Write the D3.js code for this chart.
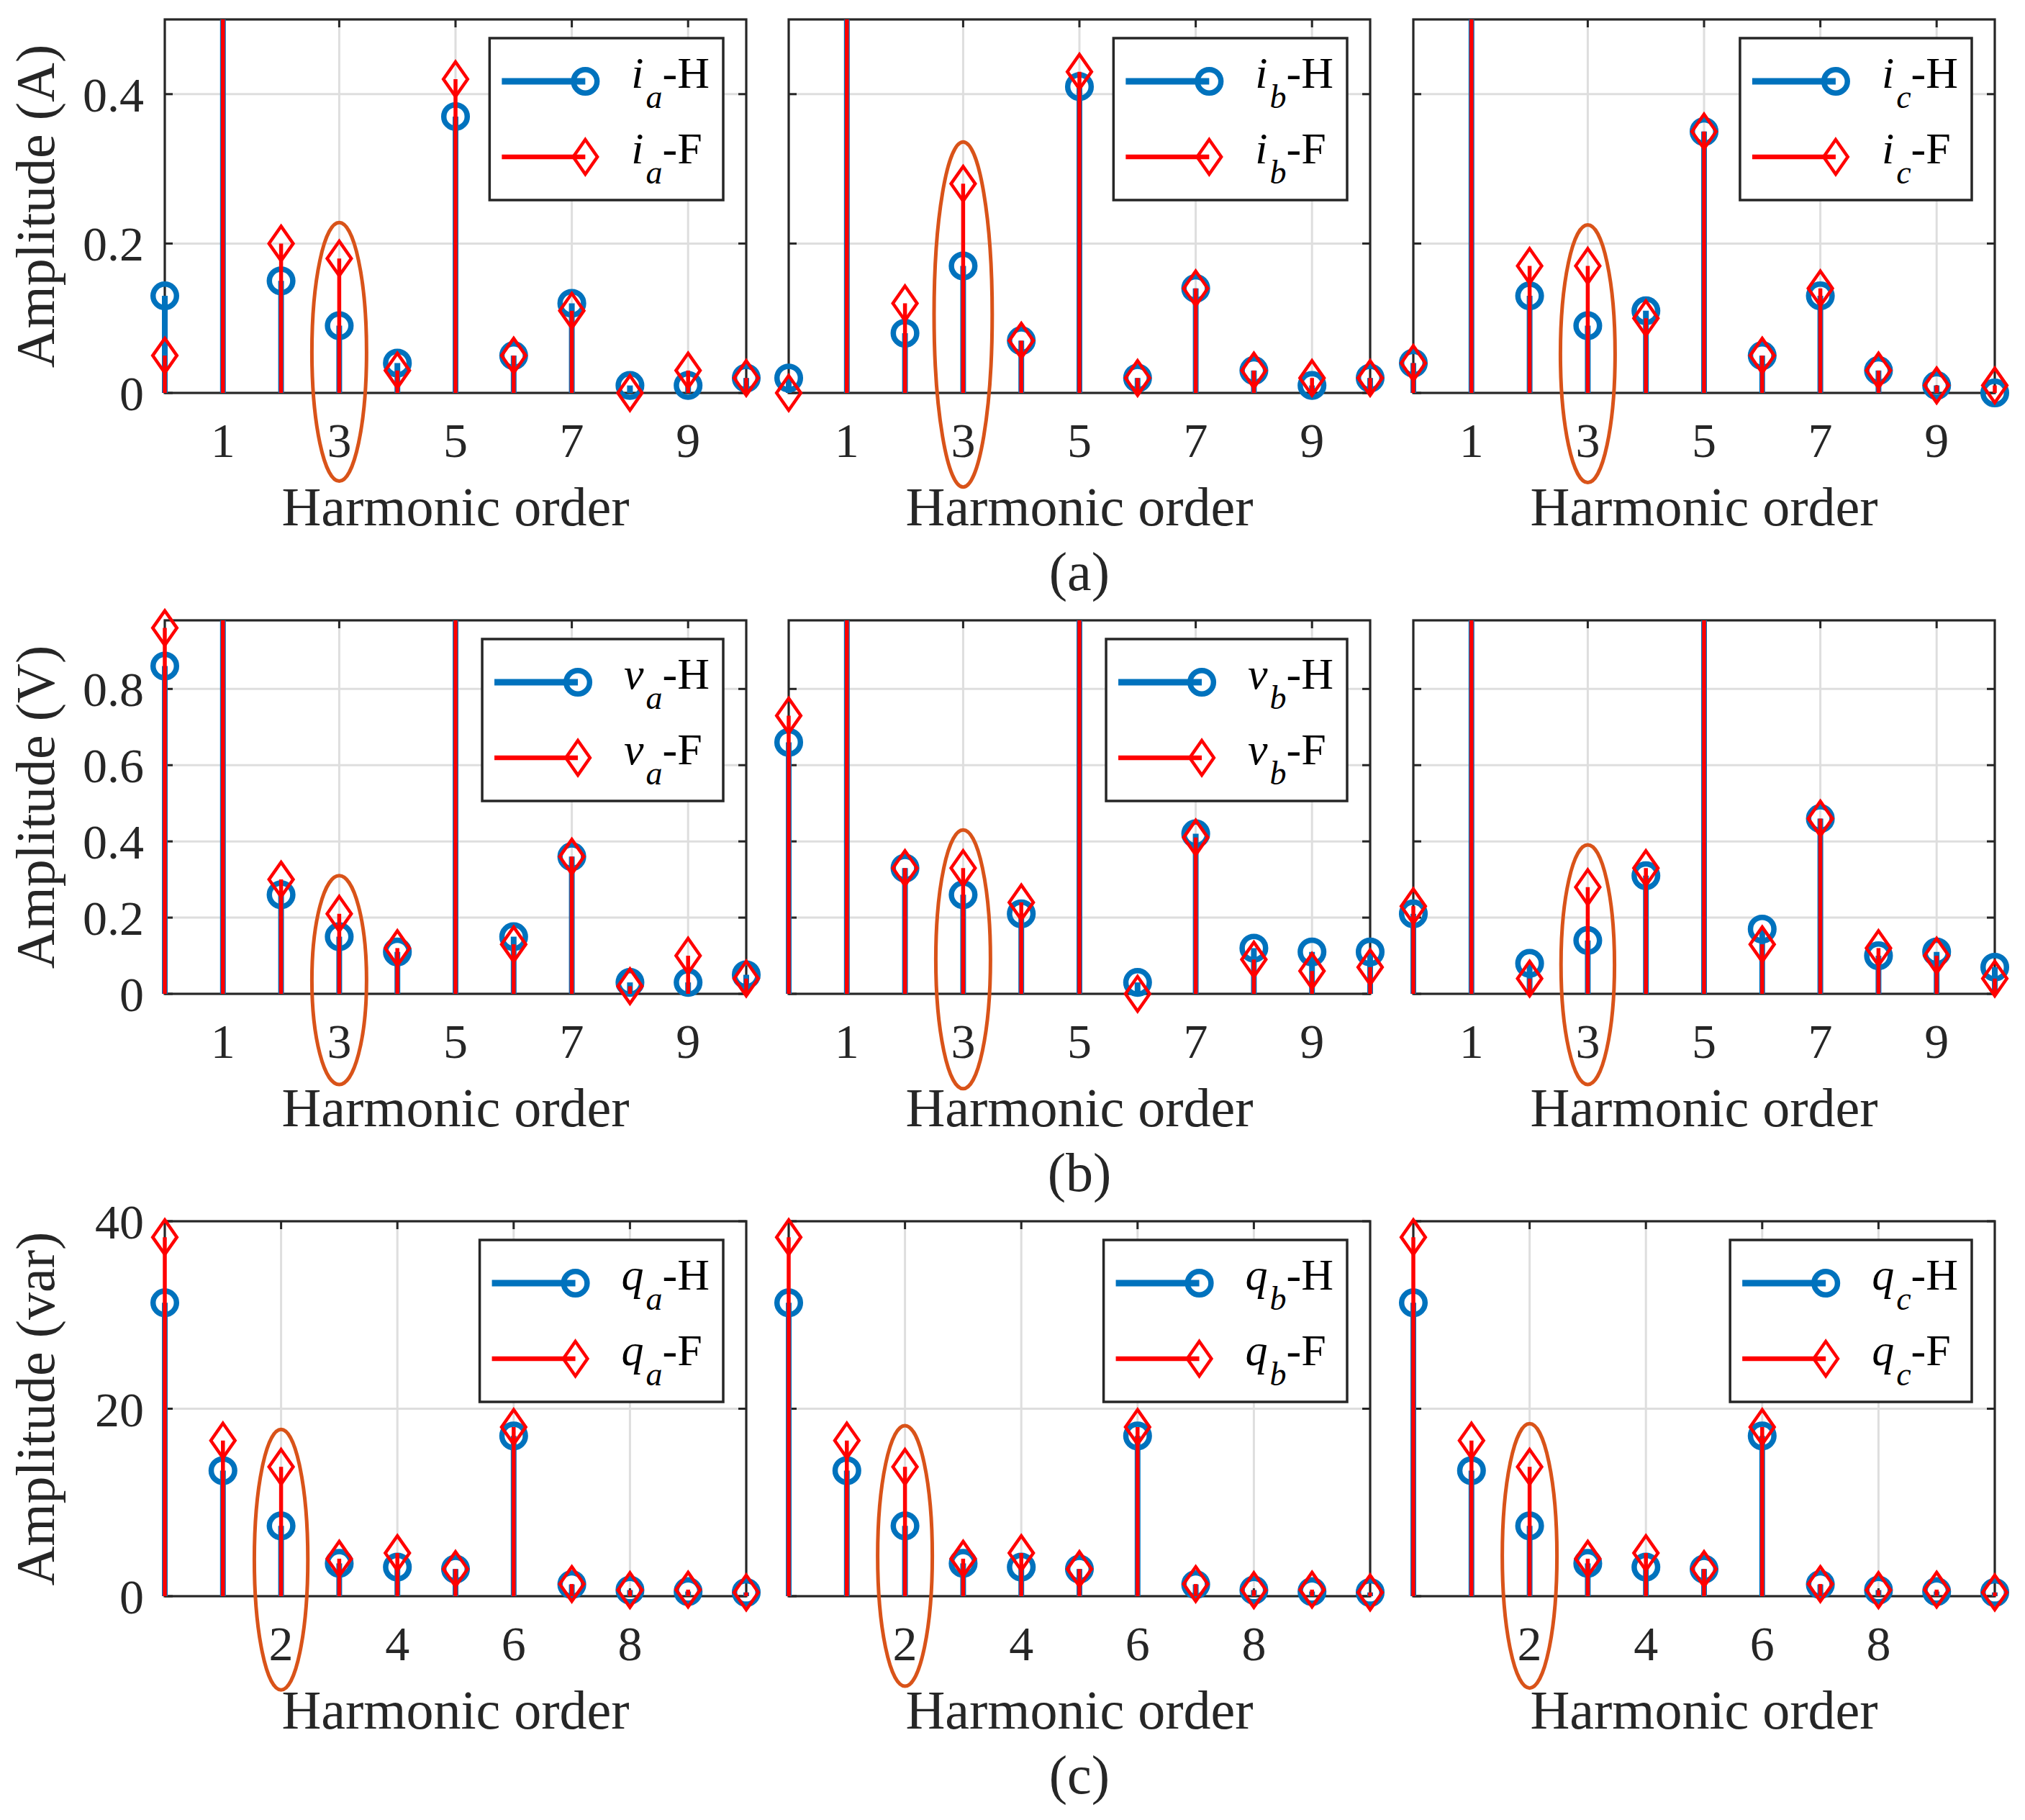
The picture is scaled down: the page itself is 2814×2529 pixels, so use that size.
<!DOCTYPE html>
<html>
<head>
<meta charset="utf-8">
<script src="https://cdn.jsdelivr.net/npm/d3@7"></script>
<style>
  body { margin: 0; background: #ffffff; }
  svg { display: block; }
</style>
</head>
<body>
<svg id="chart" width="2814" height="2529"></svg>
<script>
// ---------------- DATA ----------------
const harmonics = [0, 1, 2, 3, 4, 5, 6, 7, 8, 9, 10];

// (a) currents, A  (fundamental is far above the axis limit)
const ia_H = [0.13, 2.0, 0.15, 0.09, 0.04, 0.37, 0.05, 0.12, 0.01, 0.01, 0.02];
const ia_F = [0.05, 2.0, 0.20, 0.18, 0.03, 0.42, 0.05, 0.11, 0.00, 0.03, 0.02];
const ib_H = [0.02, 2.0, 0.08, 0.17, 0.07, 0.41, 0.02, 0.14, 0.03, 0.01, 0.02];
const ib_F = [0.00, 2.0, 0.12, 0.28, 0.07, 0.43, 0.02, 0.14, 0.03, 0.02, 0.02];
const ic_H = [0.04, 2.0, 0.13, 0.09, 0.11, 0.35, 0.05, 0.13, 0.03, 0.01, 0.00];
const ic_F = [0.04, 2.0, 0.17, 0.17, 0.10, 0.35, 0.05, 0.14, 0.03, 0.01, 0.01];

// (b) voltages, V  (1st and 5th far above the axis limit)
const va_H = [0.86, 5.0, 0.26, 0.15, 0.11, 5.0, 0.15, 0.36, 0.03, 0.03, 0.05];
const va_F = [0.96, 5.0, 0.30, 0.21, 0.12, 5.0, 0.13, 0.36, 0.02, 0.10, 0.04];
const vb_H = [0.66, 5.0, 0.33, 0.26, 0.21, 5.0, 0.03, 0.42, 0.12, 0.11, 0.11];
const vb_F = [0.73, 5.0, 0.33, 0.33, 0.24, 5.0, 0.00, 0.41, 0.09, 0.06, 0.07];
const vc_H = [0.21, 5.0, 0.08, 0.14, 0.31, 5.0, 0.17, 0.46, 0.10, 0.11, 0.07];
const vc_F = [0.23, 5.0, 0.04, 0.28, 0.33, 5.0, 0.13, 0.46, 0.12, 0.10, 0.04];

// (c) reactive power, var
const qa_H = [31.3, 13.4, 7.5, 3.5, 3.1, 2.9, 17.1, 1.25, 0.65, 0.5, 0.4];
const qa_F = [38.3, 16.6, 13.8, 4.0, 4.6, 2.9, 18.05, 1.3, 0.65, 0.7, 0.4];
const qb_H = [31.3, 13.4, 7.5, 3.5, 3.1, 2.9, 17.1, 1.25, 0.65, 0.5, 0.4];
const qb_F = [38.3, 16.6, 13.8, 4.0, 4.6, 2.9, 18.05, 1.3, 0.65, 0.7, 0.4];
const qc_H = [31.3, 13.4, 7.5, 3.5, 3.1, 2.9, 17.1, 1.25, 0.65, 0.5, 0.4];
const qc_F = [38.3, 16.6, 13.8, 4.0, 4.6, 2.9, 18.05, 1.3, 0.65, 0.7, 0.4];

// axis limits and tick labels
const xDomain = [0, 10];
const yMaxA = 0.5, yMaxB = 0.98, yMaxC = 40;
const xTicksAB = [1, 3, 5, 7, 9];
const xTicksC = [2, 4, 6, 8];
const yTicksA = [0, 0.2, 0.4];
const yTickLabelsA = ["0", "0.2", "0.4"];
const yTicksB = [0, 0.2, 0.4, 0.6, 0.8];
const yTickLabelsB = ["0", "0.2", "0.4", "0.6", "0.8"];
const yTicksC = [0, 20, 40];
const yTickLabelsC = ["0", "20", "40"];
const yLabels = ["Amplitude (A)", "Amplitude (V)", "Amplitude (var)"];
const captions = ["(a)", "(b)", "(c)"];
const xLabel = "Harmonic order";
const symbols = ["i", "v", "q"];
const phases = ["a", "b", "c"];
const seriesNames = ["H", "F"];
// which panels carry a legend (row-major); panel (b)-c has none
const legendShown = [true, true, true, true, true, false, true, true, true];

// highlight ellipses (data units: centre harmonic, top / bottom value, half width in harmonics)
const ellipseRow = [0, 0, 0, 1, 1, 1, 2, 2, 2];
const ellipseCol = [0, 1, 2, 0, 1, 2, 0, 1, 2];
const ellipseH = [3, 3, 3, 3, 3, 3, 2, 2, 2];
const ellipseTop = [0.228, 0.336, 0.225, 0.310, 0.430, 0.391, 17.8, 18.2, 18.4];
const ellipseBottom = [-0.118, -0.126, -0.120, -0.238, -0.249, -0.238, -10.0, -9.6, -9.8];
const ellipseHalfW = [0.47, 0.50, 0.47, 0.47, 0.47, 0.46, 0.46, 0.47, 0.47];

// ---------------- STYLE / LAYOUT ----------------
const FONT = "'Liberation Serif', 'Times New Roman', Times, serif";
const BLUE = "#0072BD", RED = "#FF0000", ORANGE = "#D95319";
const AXC = "#262626", GRIDC = "#dedede";
const colLeft = [229, 1096, 1964], plotW = 808;
const rowTop = [27, 862, 1697], rowH = [519, 519, 521];
const tickFont = 68, labelFont = 76, legendFont = 62, subFont = 46;

const rows = [
  { ymax: yMaxA, yt: yTicksA, ytl: yTickLabelsA, xt: xTicksAB, H: [ia_H, ib_H, ic_H], F: [ia_F, ib_F, ic_F] },
  { ymax: yMaxB, yt: yTicksB, ytl: yTickLabelsB, xt: xTicksAB, H: [va_H, vb_H, vc_H], F: [va_F, vb_F, vc_F] },
  { ymax: yMaxC, yt: yTicksC, ytl: yTickLabelsC, xt: xTicksC, H: [qa_H, qb_H, qc_H], F: [qa_F, qb_F, qc_F] }
];

const svg = d3.select("#chart");
svg.append("rect").attr("width", 2814).attr("height", 2529).attr("fill", "#fff");

const scales = {};

rows.forEach((row, r) => {
  const T = rowTop[r], B = rowTop[r] + rowH[r];
  for (let c = 0; c < 3; c++) {
    const L = colLeft[c], R = L + plotW;
    const x = d3.scaleLinear().domain(xDomain).range([L, R]);
    const y = d3.scaleLinear().domain([0, row.ymax]).range([B, T]);
    scales[r + "_" + c] = { x, y };
    const g = svg.append("g");

    // grid
    g.append("g").selectAll("line").data(row.xt).join("line")
      .attr("x1", d => x(d)).attr("x2", d => x(d)).attr("y1", T).attr("y2", B)
      .attr("stroke", GRIDC).attr("stroke-width", 3);
    g.append("g").selectAll("line").data(row.yt.filter(v => v > 0 && v < row.ymax)).join("line")
      .attr("y1", d => y(d)).attr("y2", d => y(d)).attr("x1", L).attr("x2", R)
      .attr("stroke", GRIDC).attr("stroke-width", 3);

    // box
    g.append("rect").attr("x", L).attr("y", T).attr("width", plotW).attr("height", B - T)
      .attr("fill", "none").attr("stroke", AXC).attr("stroke-width", 3.2);

    // ticks (inside, mirrored)
    const tl = 11;
    row.xt.forEach(v => {
      g.append("line").attr("x1", x(v)).attr("x2", x(v)).attr("y1", B).attr("y2", B - tl).attr("stroke", AXC).attr("stroke-width", 3);
      g.append("line").attr("x1", x(v)).attr("x2", x(v)).attr("y1", T).attr("y2", T + tl).attr("stroke", AXC).attr("stroke-width", 3);
    });
    row.yt.forEach(v => {
      g.append("line").attr("y1", y(v)).attr("y2", y(v)).attr("x1", L).attr("x2", L + tl).attr("stroke", AXC).attr("stroke-width", 3);
      g.append("line").attr("y1", y(v)).attr("y2", y(v)).attr("x1", R).attr("x2", R - tl).attr("stroke", AXC).attr("stroke-width", 3);
    });

    // tick labels
    g.append("g").selectAll("text").data(row.xt).join("text")
      .attr("x", d => x(d)).attr("y", B + 89)
      .attr("text-anchor", "middle").attr("font-family", FONT).attr("font-size", tickFont)
      .attr("fill", AXC).text(d => d);
    if (c === 0) {
      g.append("g").selectAll("text").data(row.yt).join("text")
        .attr("x", L - 29).attr("y", d => y(d) + 24)
        .attr("text-anchor", "end").attr("font-family", FONT).attr("font-size", tickFont)
        .attr("fill", AXC).text((d, i) => row.ytl[i]);
      g.append("text")
        .attr("transform", `translate(75,${(T + B) / 2}) rotate(-90)`)
        .attr("text-anchor", "middle").attr("font-family", FONT).attr("font-size", labelFont)
        .attr("fill", AXC).text(yLabels[r]);
    }
    g.append("text").attr("x", (L + R) / 2).attr("y", B + 184)
      .attr("text-anchor", "middle").attr("font-family", FONT).attr("font-size", labelFont)
      .attr("fill", AXC).text(xLabel);

    // stems
    const series = [
      { vals: row.H[c], color: BLUE, w: 8, marker: "circle" },
      { vals: row.F[c], color: RED, w: 5.5, marker: "diamond" }
    ];
    series.forEach(s => {
      const sg = g.append("g");
      sg.selectAll("line").data(harmonics).join("line")
        .attr("x1", d => x(d)).attr("x2", d => x(d))
        .attr("y1", y(0)).attr("y2", d => y(Math.min(s.vals[d], row.ymax)))
        .attr("stroke", s.color).attr("stroke-width", s.w);
      const visible = harmonics.filter(d => s.vals[d] <= row.ymax);
      if (s.marker === "circle") {
        sg.selectAll("circle").data(visible).join("circle")
          .attr("cx", d => x(d)).attr("cy", d => y(s.vals[d])).attr("r", 16.3)
          .attr("fill", "none").attr("stroke", s.color).attr("stroke-width", 7.5);
      } else {
        sg.selectAll("path").data(visible).join("path")
          .attr("transform", d => `translate(${x(d)},${y(s.vals[d])})`)
          .attr("d", "M0,-24 L16.8,0 L0,24 L-16.8,0 Z")
          .attr("fill", "none").attr("stroke", s.color).attr("stroke-width", 4.5)
          .attr("stroke-linejoin", "miter");
      }
    });

    // legend
    if (legendShown[r * 3 + c]) {
      const lg = g.append("g");
      const box = lg.append("rect").attr("fill", "#fff").attr("stroke", AXC).attr("stroke-width", 3.5);
      const texts = [];
      seriesNames.forEach((nm, i) => {
        const ly = 60 + i * 105;
        const col = i === 0 ? BLUE : RED;
        lg.append("line").attr("x1", 17).attr("x2", 133).attr("y1", ly).attr("y2", ly)
          .attr("stroke", col).attr("stroke-width", i === 0 ? 9 : 6.5);
        if (i === 0) {
          lg.append("circle").attr("cx", 133).attr("cy", ly).attr("r", 16.3)
            .attr("fill", "none").attr("stroke", col).attr("stroke-width", 7.5);
        } else {
          lg.append("path").attr("transform", `translate(133,${ly})`)
            .attr("d", "M0,-24 L16.8,0 L0,24 L-16.8,0 Z")
            .attr("fill", "none").attr("stroke", col).attr("stroke-width", 4.5);
        }
        const t = lg.append("text").attr("x", 197).attr("y", ly + 9)
          .attr("font-family", FONT).attr("font-size", legendFont).attr("fill", "#000");
        t.append("tspan").attr("font-style", "italic").text(symbols[r]);
        t.append("tspan").attr("font-style", "italic").attr("font-size", subFont).attr("dx", 3).attr("dy", 28).text(phases[c]);
        t.append("tspan").attr("dy", -28).text("-" + nm);
        texts.push(t);
      });
      const tw = d3.max(texts, t => t.node().getComputedTextLength());
      const bw = 197 + tw + 22, bh = 225;
      box.attr("x", 0).attr("y", 0).attr("width", bw).attr("height", bh);
      lg.attr("transform", `translate(${R - 32 - bw},${T + 26})`);
    }
  }
  // caption
  svg.append("text").attr("x", colLeft[1] + plotW / 2).attr("y", rowTop[r] + rowH[r] + 274)
    .attr("text-anchor", "middle").attr("font-family", FONT).attr("font-size", labelFont)
    .attr("fill", AXC).text(captions[r]);
});

// highlight ellipses
ellipseRow.forEach((r, i) => {
  const { x, y } = scales[r + "_" + ellipseCol[i]];
  const cx = x(ellipseH[i]);
  const rx = x(ellipseH[i] + ellipseHalfW[i]) - cx;
  const yTop = y(ellipseTop[i]), yBot = y(ellipseBottom[i]);
  svg.append("ellipse").attr("cx", cx).attr("cy", (yTop + yBot) / 2)
    .attr("rx", rx).attr("ry", (yBot - yTop) / 2)
    .attr("fill", "none").attr("stroke", ORANGE).attr("stroke-width", 5);
});
</script>
</body>
</html>
